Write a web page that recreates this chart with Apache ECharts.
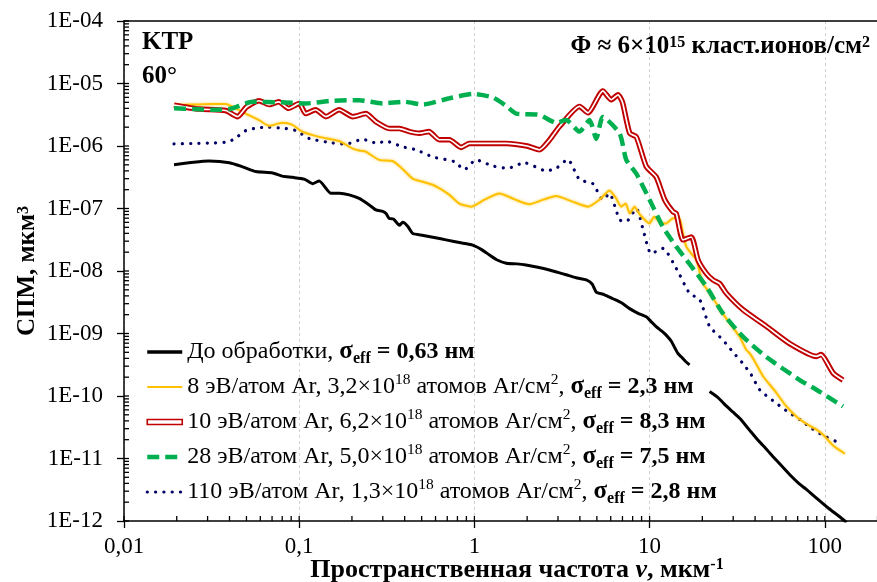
<!DOCTYPE html>
<html><head><meta charset="utf-8">
<script src="https://cdn.jsdelivr.net/npm/echarts@6/dist/echarts.min.js"></script>
<style>html,body{margin:0;padding:0;background:#fff}#c{width:877px;height:582px}</style>
</head><body><div id="c"></div>
<script>
// ---- data (spatial frequency, мкм^-1 ; PSD, мкм^3) ----
const seriesNames = [
  'До обработки',
  '8 эВ/атом Ar',
  '10 эВ/атом Ar',
  '28 эВ/атом Ar',
  '110 эВ/атом Ar'
];
const legendTexts = [
  'До обработки, {bs|σ}{sub|eff}{b| = 0,63 нм}',
  '8 эВ/атом Ar, 3,2×10{sup|18} атомов Ar/см{sup|2}, {bs|σ}{sub|eff}{b| = 2,3 нм}',
  '10 эВ/атом Ar, 6,2×10{sup|18} атомов Ar/см{sup|2}, {bs|σ}{sub|eff}{b| = 8,3 нм}',
  '28 эВ/атом Ar, 5,0×10{sup|18} атомов Ar/см{sup|2}, {bs|σ}{sub|eff}{b| = 7,5 нм}',
  '110 эВ/атом Ar, 1,3×10{sup|18} атомов Ar/см{sup|2}, {bs|σ}{sub|eff}{b| = 2,8 нм}'
];
const yTickValues = [1e-12,1e-11,1e-10,1e-9,1e-8,1e-7,1e-6,1e-5,1e-4];
const xTickValues = [0.01,0.1,1,10,100,1000];
const minorMultipliers = [2,3,4,5,6,7,8,9];

const blackPart1 = [[0.0193,5.0e-7],[0.025,5.5e-7],[0.0306,5.75e-7],[0.04,5.4e-7],[0.048,4.6e-7],[0.0566,3.9e-7],[0.0705,3.7e-7],[0.08,3.3e-7],[0.0916,3.15e-7],[0.107,2.95e-7],[0.119,2.5e-7],[0.13,2.75e-7],[0.152,1.75e-7],[0.17,1.75e-7],[0.193,1.65e-7],[0.22,1.45e-7],[0.25,1.15e-7],[0.274,9.5e-8],[0.3,9e-8],[0.313,8.3e-8],[0.327,6.9e-8],[0.345,6.8e-8],[0.373,5.4e-8],[0.39,6e-8],[0.416,5.2e-8],[0.444,4e-8],[0.485,3.8e-8],[0.6,3.4e-8],[0.689,3.15e-8],[0.85,2.8e-8],[0.977,2.6e-8],[1.1,2.2e-8],[1.22,1.8e-8],[1.35,1.5e-8],[1.52,1.33e-8],[1.75,1.3e-8],[1.97,1.25e-8],[2.3,1.15e-8],[2.68,1.04e-8],[3.0,9.5e-9],[3.34,8.7e-9],[3.8,7.8e-9],[4.35,7.2e-9],[4.7,6.2e-9],[4.96,4.6e-9],[5.5,4.2e-9],[6.17,3.6e-9],[6.9,3.1e-9],[7.69,2.5e-9],[8.6,2.1e-9],[9.57,1.85e-9],[10.2,1.55e-9],[10.9,1.29e-9],[11.7,1.1e-9],[12.4,9.5e-10],[13.3,7.5e-10],[14.5,4.8e-10],[15.2,4.2e-10],[16,3.6e-10],[16.9,3.15e-10]];
const blackPart2 = [[22,1.18e-10],[24.5,9.5e-11],[27,7.2e-11],[30,5.5e-11],[32.7,4.4e-11],[37,2.9e-11],[42,1.9e-11],[46,1.45e-11],[50.7,1.07e-11],[57,7.5e-12],[64,5.3e-12],[71,4.0e-12],[78.5,3.2e-12],[90,2.3e-12],[105,1.6e-12],[120,1.2e-12],[133,0.95e-12]];
const yellowData = [[0.0193,4.5e-6],[0.025,4.6e-6],[0.032,4.7e-6],[0.038,4.7e-6],[0.0435,4.0e-6],[0.0495,3.3e-6],[0.059,2.6e-6],[0.0674,2.1e-6],[0.08,2.35e-6],[0.0916,2.18e-6],[0.104,1.7e-6],[0.13,1.4e-6],[0.169,1.2e-6],[0.202,9.1e-7],[0.22,8.5e-7],[0.24,8.1e-7],[0.286,6e-7],[0.341,5.75e-7],[0.389,4.3e-7],[0.444,3.0e-7],[0.5,2.7e-7],[0.578,2.4e-7],[0.65,2e-7],[0.72,1.65e-7],[0.82,1.2e-7],[0.957,1.07e-7],[1.15,1.4e-7],[1.39,1.74e-7],[1.7,1.4e-7],[2.06,1.17e-7],[2.5,1.4e-7],[2.93,1.58e-7],[3.6,1.3e-7],[4.45,1.07e-7],[5.2,1.4e-7],[5.9,1.94e-7],[6.4,1.5e-7],[6.88,1.07e-7],[7.3,1.2e-7],[7.7,8.3e-8],[8.2,1.07e-7],[8.8,8e-8],[10,5.75e-8],[10.6,7.4e-8],[11.5,6e-8],[12.4,5.75e-8],[13.6,7e-8],[14.8,6.9e-8],[15.5,4e-8],[16.2,2.45e-8],[17.3,1.9e-8],[18.5,1.5e-8],[20.1,6.4e-9],[22,4.5e-9],[26.1,2.1e-9],[28.6,1.47e-9],[32.7,8.8e-10],[35.6,5.5e-10],[37.3,4.8e-10],[40,3.5e-10],[44.5,2.05e-10],[52,1.2e-10],[60.4,6.8e-11],[70,4.5e-11],[78.5,3.6e-11],[88,3e-11],[97.8,2.4e-11],[112,1.6e-11],[130,1.2e-11]];
const redData = [[0.0193,4.5e-6],[0.0268,3.9e-6],[0.038,3.7e-6],[0.0445,2.95e-6],[0.05,4.2e-6],[0.059,5.3e-6],[0.0674,4.6e-6],[0.0765,5.1e-6],[0.087,4.0e-6],[0.1,4.8e-6],[0.109,3.3e-6],[0.124,3.8e-6],[0.142,2.95e-6],[0.169,3.8e-6],[0.202,2.95e-6],[0.24,3.3e-6],[0.274,2.45e-6],[0.327,1.9e-6],[0.373,1.9e-6],[0.426,1.7e-6],[0.485,1.6e-6],[0.55,1.7e-6],[0.63,1.26e-6],[0.72,1.26e-6],[0.84,9.5e-7],[0.936,1.1e-6],[1.2,1.1e-6],[1.52,1.1e-6],[2.0,1.0e-6],[2.35,8.7e-7],[2.69,1.26e-6],[3.06,2.05e-6],[3.98,4.3e-6],[4.45,3.4e-6],[5.41,7.6e-6],[6.04,5.5e-6],[6.6,6.6e-6],[7.0,5.0e-6],[7.7,1.6e-6],[8.4,1.4e-6],[9.57,4.7e-7],[10.9,3.2e-7],[12.2,1.38e-7],[13.6,8.9e-8],[14.2,8.3e-8],[15.5,3.15e-8],[17.3,3.5e-8],[18.9,1.5e-8],[21.1,9.1e-9],[23,7.2e-9],[25.1,6.3e-9],[27.4,4.4e-9],[34.1,2.4e-9],[46.4,1.3e-9],[63,6.9e-10],[89.6,4.3e-10],[95,4.6e-10],[112,2.3e-10],[127,1.8e-10]];
const greenData = [[0.0193,4e-6],[0.025,3.9e-6],[0.032,3.8e-6],[0.04,3.9e-6],[0.054,5.1e-6],[0.08,5e-6],[0.109,4.8e-6],[0.155,5.3e-6],[0.22,5.4e-6],[0.30,4.8e-6],[0.40,5.1e-6],[0.507,4.6e-6],[0.72,5.8e-6],[0.98,6.8e-6],[1.27,6e-6],[1.5,4.5e-6],[1.73,3.3e-6],[2.35,3.15e-6],[2.93,2.35e-6],[3.34,2.6e-6],[3.98,1.7e-6],[4.54,2.6e-6],[4.96,1.3e-6],[5.41,2.9e-6],[6.74,1.6e-6],[7.36,6e-7],[8.4,3.6e-7],[10,1.38e-7],[11.9,5.1e-8],[14.2,2.45e-8],[16.9,1.3e-8],[21.1,5.6e-9],[26.2,2.1e-9],[34.1,8.9e-10],[46.4,4.2e-10],[72,1.8e-10],[89.6,1.26e-10],[127,6.8e-11]];
const navyData = [[0.0193,1.08e-6],[0.025,1.1e-6],[0.032,1.12e-6],[0.038,1.15e-6],[0.0425,1.28e-6],[0.0495,1.76e-6],[0.058,1.95e-6],[0.067,2.0e-6],[0.084,1.9e-6],[0.096,1.76e-6],[0.114,1.32e-6],[0.155,1.12e-6],[0.185,1.07e-6],[0.23,1.28e-6],[0.28,1.1e-6],[0.31,1.2e-6],[0.389,9.7e-7],[0.464,8.7e-7],[0.578,6.7e-7],[0.77,5.6e-7],[0.877,4.2e-7],[1.02,6e-7],[1.27,4.8e-7],[1.55,4.4e-7],[1.93,5.4e-7],[2.57,4.0e-7],[2.93,4.4e-7],[3.41,6.1e-7],[3.98,2.9e-7],[4.74,2.5e-7],[5.41,1.38e-7],[5.9,1.74e-7],[6.74,6.6e-8],[7.36,6.2e-8],[8.4,1e-7],[9.3,4e-8],[10.2,1.9e-8],[11.9,2.3e-8],[14.2,1.1e-8],[16.9,4.4e-9],[19.3,3.5e-9],[22,1.3e-9],[26.2,7.9e-10],[30,5e-10],[34.1,3.3e-10],[38,2.2e-10],[42.5,1.26e-10],[53,7.6e-11],[62,5.5e-11],[72,4.2e-11],[82,3.2e-11],[93.6,2.5e-11],[122,1.75e-11]];

// ---- chart ----
const FONT = '"Liberation Serif", "Times New Roman", serif';
const X_MIN = 0.01, X_MAX = 1000, Y_MIN = 1e-12, Y_MAX = 1e-4;

const minorTicks = [];
xTickValues.slice(0, -1).forEach(d => minorMultipliers.forEach(m => minorTicks.push([d * m, 0])));
yTickValues.slice(0, -1).forEach(d => minorMultipliers.forEach(m => minorTicks.push([d * m, 1])));
xTickValues.forEach(d => minorTicks.push([d, 2]));
yTickValues.forEach(d => minorTicks.push([d, 3]));

function expOf(v) { return Math.round(Math.log10(v)); }
function fmtY(v) { const e = expOf(v); return '1E' + (e < 0 ? '-' : '+') + String(Math.abs(e)).padStart(2, '0'); }
function fmtX(v) { const e = expOf(v); return e < 0 ? '0,' + '0'.repeat(-e - 1) + '1' : String(Math.pow(10, e)); }

const chart = echarts.init(document.getElementById('c'), null, { renderer: 'canvas' });
const LF = 24;
const richLegend = {
  sup: { fontFamily: FONT, fontSize: 15.5, lineHeight: 17, verticalAlign: 'top', color: '#000' },
  sub: { fontFamily: FONT, fontSize: 16, fontWeight: 'bold', lineHeight: 17, verticalAlign: 'bottom', color: '#000' },
  b: { fontFamily: FONT, fontSize: LF, fontWeight: 'bold', lineHeight: 30, color: '#000' },
  bs: { fontFamily: FONT, fontSize: LF + 1, fontWeight: 'bold', lineHeight: 30, color: '#000' }
};
const lineBase = { type: 'line', showSymbol: false, symbol: 'none', smooth: 0.2, animation: false, xAxisIndex: 0, yAxisIndex: 0 };
const hiddenMark = { color: 'rgba(0,0,0,0)', borderWidth: 0, opacity: 0 };

chart.setOption({
  backgroundColor: '#fff',
  animation: false,
  grid: { left: 124, top: 21, width: 876, height: 500, containLabel: false, outerBoundsMode: 'none' },
  xAxis: [
    { type: 'log', logBase: 10, min: X_MIN, max: X_MAX, position: 'bottom', splitNumber: 5,
      axisLine: { show: true, lineStyle: { color: '#000', width: 1.5 } },
      axisTick: { show: true, length: 7, lineStyle: { color: '#000', width: 1.3 } },
      axisLabel: { formatter: fmtX, fontFamily: FONT, fontSize: 23, color: '#000', margin: 14, hideOverlap: false },
      splitLine: { show: true, lineStyle: { color: '#d0d0d0', width: 1, type: [3, 3] } },
      minorTick: { show: false }, minorSplitLine: { show: false } },
    { type: 'log', logBase: 10, min: X_MIN, max: X_MAX, position: 'top',
      axisLine: { show: true, lineStyle: { color: '#000', width: 1.5 } },
      axisTick: { show: false }, axisLabel: { show: false }, splitLine: { show: false } }
  ],
  yAxis: [
    { type: 'log', logBase: 10, min: Y_MIN, max: Y_MAX, splitNumber: 8,
      axisLine: { show: true, lineStyle: { color: '#000', width: 1.5 } },
      axisTick: { show: true, length: 7, lineStyle: { color: '#000', width: 1.3 } },
      axisLabel: { formatter: fmtY, fontFamily: FONT, fontSize: 23, color: '#000', margin: 21 },
      splitLine: { show: false }, minorTick: { show: false } }
  ],
  legend: {
    orient: 'vertical', left: 145, top: 337, padding: 0, itemGap: 5, itemWidth: 35, itemHeight: 14, itemTextGap: 1,
    selectedMode: false,
    data: [
      { name: seriesNames[0], itemStyle: hiddenMark, lineStyle: { width: 3.5 } },
      { name: seriesNames[1], itemStyle: hiddenMark, lineStyle: { width: 2.2 } },
      { name: seriesNames[2], icon: 'path://M0,0L35,0L35,5L0,5Z', itemStyle: { color: '#fff', borderColor: '#c00000', borderWidth: 1.6 } },
      { name: seriesNames[3], itemStyle: hiddenMark, lineStyle: { width: 4.5 } },
      { name: seriesNames[4], itemStyle: hiddenMark, lineStyle: { width: 3.2 } }
    ],
    formatter: name => legendTexts[seriesNames.indexOf(name)],
    textStyle: { fontFamily: FONT, fontSize: LF, lineHeight: 30, color: '#000', rich: richLegend }
  },
  graphic: [
    { type: 'text', x: 142, y: 43, style: { text: 'KTP', font: 'bold 25px ' + FONT, fill: '#000', verticalAlign: 'middle' } },
    { type: 'text', x: 142, y: 77, style: { text: '60°', font: 'bold 25px ' + FONT, fill: '#000', verticalAlign: 'middle' } },
    { type: 'text', x: 870, y: 47, style: { text: 'Φ ≈ 6×10{s|15} класт.ионов/см{s|2}', font: 'bold 25px ' + FONT, fill: '#000', align: 'right', verticalAlign: 'middle',
        rich: { s: { font: 'bold 16px ' + FONT, fill: '#000', lineHeight: 14, verticalAlign: 'top' } } } },
    { type: 'text', x: 517, y: 570, style: { text: 'Пространственная частота {i|ν}, мкм{s|-1}', font: 'bold 26px ' + FONT, fill: '#000', align: 'center', verticalAlign: 'middle',
        rich: { i: { font: 'bold italic 26px ' + FONT, fill: '#000' }, s: { font: 'bold 16px ' + FONT, fill: '#000', lineHeight: 14, verticalAlign: 'top' } } } },
    { type: 'text', x: 28, y: 271, rotation: Math.PI / 2, style: { text: 'СПМ, мкм{s|3}', font: 'bold 25px ' + FONT, fill: '#000', align: 'center', verticalAlign: 'middle',
        rich: { s: { font: 'bold 16px ' + FONT, fill: '#000', lineHeight: 14, verticalAlign: 'top' } } } }
  ],
  series: [
    Object.assign({}, lineBase, { name: seriesNames[4], z: 3, data: navyData, itemStyle: { color: '#000066' },
      lineStyle: { color: '#000066', width: 3.2, type: [0.1, 8.2], cap: 'round' } }),
    Object.assign({}, lineBase, { name: seriesNames[1], z: 4, data: yellowData, itemStyle: { color: '#ffc000' },
      lineStyle: { color: '#ffc000', width: 2, shadowColor: 'rgba(255,192,0,0.7)', shadowBlur: 3 } }),
    Object.assign({}, lineBase, { name: seriesNames[2], z: 5, data: redData, itemStyle: { color: '#c00000' },
      lineStyle: { color: '#c00000', width: 5.5 } }),
    Object.assign({}, lineBase, { name: 'inner', z: 6, data: redData, itemStyle: { color: '#fff' },
      lineStyle: { color: '#fff', width: 1.7 } }),
    Object.assign({}, lineBase, { name: seriesNames[3], z: 7, data: greenData, itemStyle: { color: '#00b050' },
      lineStyle: { color: '#00b050', width: 4.5, type: [12, 6] } }),
    Object.assign({}, lineBase, { name: seriesNames[0], z: 8, data: blackPart1.concat([[19, '-']], blackPart2), itemStyle: { color: '#000' },
      lineStyle: { color: '#000', width: 3 } }),
    { type: 'custom', z: 9, silent: true, animation: false, clip: false, xAxisIndex: 0, yAxisIndex: 0,
      data: minorTicks,
      renderItem: function (params, api) {
        const v = api.value(0), kind = api.value(1);
        let x1, y1, x2, y2;
        if (kind === 0 || kind === 2) {
          const p = api.coord([v, Y_MIN]);
          x1 = x2 = p[0]; y1 = p[1]; y2 = p[1] - 5;
        } else {
          const p = api.coord([X_MIN, v]);
          y1 = y2 = p[1]; x1 = p[0]; x2 = p[0] + 5;
        }
        return { type: 'line', shape: { x1: x1, y1: y1, x2: x2, y2: y2 }, style: { stroke: '#000', lineWidth: 1.3 } };
      } }
  ]
});
</script></body></html>
